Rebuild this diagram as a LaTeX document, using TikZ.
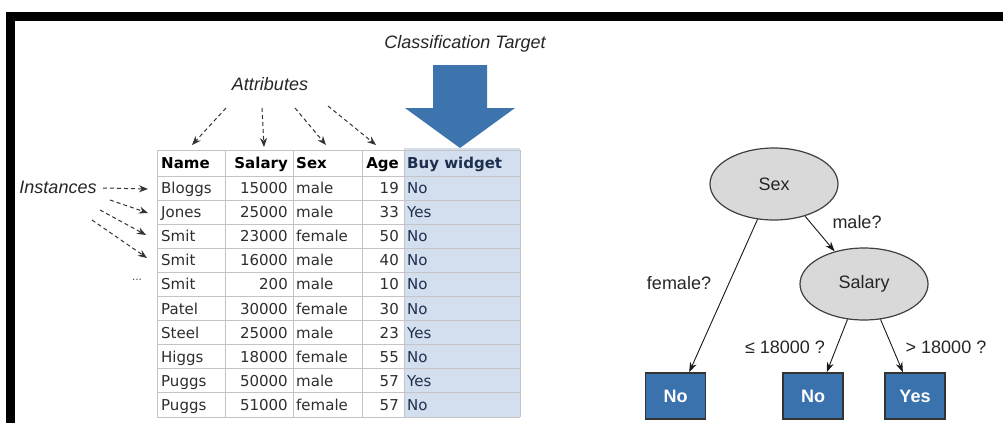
\documentclass[tikz,border=0pt]{standalone}
\usepackage{fontspec}
\setmainfont{Liberation Sans}
\newfontfamily\tabfont{DejaVu Sans}
\usetikzlibrary{shapes.geometric,arrows.meta}
\definecolor{bigblue}{HTML}{3D74AE}
\definecolor{colblue}{HTML}{D3DFEE}
\definecolor{navy}{HTML}{1E2E4E}
\definecolor{leafblue}{HTML}{3A72AD}
\definecolor{ellgray}{HTML}{D9D9D9}
\definecolor{txtgray}{HTML}{2E2E2E}
\definecolor{gridgray}{HTML}{C4C4C4}
\tikzset{
  lbl/.style={font=\fontsize{18}{20}\selectfont\itshape, text=black!85, inner sep=0pt},
  trlbl/.style={font=\fontsize{18}{20}\selectfont, text=black!85, inner sep=0pt},
  cell/.style={font=\tabfont\fontsize{15}{17}\selectfont, text=txtgray, inner sep=0pt},
  hcell/.style={font=\tabfont\bfseries\fontsize{15}{17}\selectfont, text=black, inner sep=0pt},
  bcell/.style={font=\tabfont\fontsize{15}{17}\selectfont, text=navy, inner sep=0pt},
  dasharrow/.style={draw=black!80, line width=1pt, dash pattern=on 4pt off 3pt, -{Stealth[length=9pt,width=7pt]}},
  treeedge/.style={draw=black!90, line width=0.9pt, -{Stealth[length=10pt,width=7pt]}},
  ellnode/.style={ellipse, draw=black!75, line width=1.2pt, fill=ellgray, minimum width=128pt, minimum height=72pt, inner sep=0pt, font=\fontsize{18}{20}\selectfont, text=black!85},
  leaf/.style={rectangle, draw=black!80, line width=1.5pt, fill=leafblue, minimum width=60pt, minimum height=46pt, inner sep=0pt, font=\fontsize{18}{20}\selectfont\bfseries, text=white}
}
\begin{document}
\begin{tikzpicture}[x=1pt,y=-1pt]
\useasboundingbox (0,0) rectangle (1003,423);
\fill[white] (0,0) rectangle (1003,423);
% frame
\fill[black] (6,12) rectangle (1003,21);
\fill[black] (6,12) rectangle (15,423);

% big classification arrow
\fill[bigblue] (433,65) -- (487,65) -- (487,108) -- (515,108) -- (460,148) -- (405,108) -- (433,108) -- cycle;
\node[lbl] (target) at (465,44) {Classification Target};

% table background column
\fill[colblue] (404,148) rectangle (520,417);
% grid
\foreach \yy in {150,176,200.1,224.2,248.3,272.4,296.5,320.6,344.7,368.8,392.9,417}
  \draw[gridgray, line width=0.9pt] (157,\yy) -- (520,\yy);
\foreach \xx in {157,225,293,362,404,520}
  \draw[gridgray, line width=0.9pt] (\xx,150) -- (\xx,417);

% header
\node[hcell, anchor=base west] (hname) at (161,168.5) {Name};
\node[hcell, anchor=base east] (hsal) at (288,168.5) {Salary};
\node[hcell, anchor=base west] (hsex) at (296,168.5) {Sex};
\node[hcell, anchor=base east] (hage) at (399,168.5) {Age};
\node[hcell, anchor=base west, text=navy] (hbuy) at (407,168.5) {Buy widget};

% rows
\foreach \nm/\sal/\sx/\ag/\bw [count=\i] in {
  Bloggs/15000/male/19/No,
  Jones/25000/male/33/Yes,
  Smit/23000/female/50/No,
  Smit/16000/male/40/No,
  Smit/200/male/10/No,
  Patel/30000/female/30/No,
  Steel/25000/male/23/Yes,
  Higgs/18000/female/55/No,
  Puggs/50000/male/57/Yes,
  Puggs/51000/female/57/No}{
  \pgfmathsetmacro\yb{176+24.1*(\i-0.5)+5.5}
  \node[cell, anchor=base west] (name\i) at (161,\yb) {\nm};
  \node[cell, anchor=base east] (sal\i) at (288,\yb) {\sal};
  \node[cell, anchor=base west] (sex\i) at (296,\yb) {\sx};
  \node[cell, anchor=base east] (age\i) at (399,\yb) {\ag};
  \node[bcell, anchor=base west] (buy\i) at (407,\yb) {\bw};
}

% attributes
\node[lbl] (attr) at (270,84) {Attributes};
\coordinate (a1s) at (226,108); \coordinate (a1e) at (192,145);
\coordinate (a2s) at (262,108); \coordinate (a2e) at (264,147);
\coordinate (a3s) at (295,108); \coordinate (a3e) at (326,145);
\coordinate (a4s) at (328,106); \coordinate (a4e) at (376,145);
\draw[dasharrow] (a1s) -- (a1e);
\draw[dasharrow] (a2s) -- (a2e);
\draw[dasharrow] (a3s) -- (a3e);
\draw[dasharrow] (a4s) -- (a4e);

% instances
\node[lbl] (inst) at (58,187) {Instances};
\coordinate (i1s) at (103,188); \coordinate (i1e) at (148,189);
\coordinate (i2s) at (110,200); \coordinate (i2e) at (148,213);
\coordinate (i3s) at (100,210); \coordinate (i3e) at (146,235);
\coordinate (i4s) at (92,220);  \coordinate (i4e) at (147,258);
\draw[dasharrow] (i1s) -- (i1e);
\draw[dasharrow] (i2s) -- (i2e);
\draw[dasharrow] (i3s) -- (i3e);
\draw[dasharrow] (i4s) -- (i4e);
\node[font=\fontsize{12}{12}\selectfont, text=black!70, inner sep=0pt] (dots) at (137,280) {...};

% decision tree
\node[ellnode] (sexn) at (774,184) {Sex};
\node[ellnode] (saln) at (864,284) {Salary};
\node[leaf] (no1) at (675.5,396) {No};
\node[leaf] (no2) at (813,396) {No};
\node[leaf] (yes) at (915,396) {Yes};
\draw[treeedge] (sexn.-115) -- (no1.60);
\draw[treeedge] (sexn.-46) -- (saln.132);
\draw[treeedge] (saln.-115) -- (no2.60);
\draw[treeedge] (saln.-65) -- (yes.117);
\node[trlbl] (lfem) at (679,283) {female?};
\node[trlbl] (lmale) at (857,222) {male?};
\node[trlbl] (lle) at (785,347) {≤ 18000 ?};
\node[trlbl] (lgt) at (946,347) {> 18000 ?};
\end{tikzpicture}
\end{document}
